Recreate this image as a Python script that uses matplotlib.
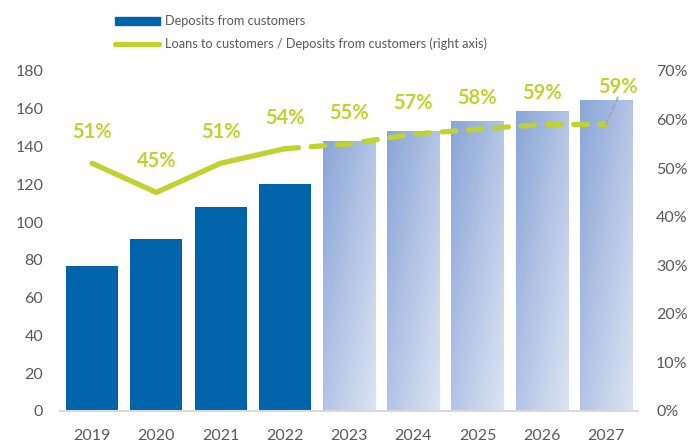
import numpy as np
import matplotlib.pyplot as plt
from matplotlib.patches import Rectangle
from matplotlib.lines import Line2D
from matplotlib.colors import LinearSegmentedColormap

plt.rcParams['font.family'] = ['Lato', 'DejaVu Sans']

years = ['2019', '2020', '2021', '2022', '2023', '2024', '2025', '2026', '2027']
deposits = [77, 91, 108, 120, 143, 148, 153.5, 159, 164.5]
ratio = [51, 45, 51, 54, 55, 57, 58, 59, 59]
n_actual = 4  # 2019-2022 are actuals, the rest is forecast

DARK_BLUE = '#0064AA'
GREEN = '#BFD22F'
GREY_TXT = '#595959'

fig = plt.figure(figsize=(6.89, 4.42), dpi=100)
ax = fig.add_axes([60 / 689, 1 - 411 / 442, 578 / 689, 340 / 442])
ax2 = ax.twinx()

x = np.arange(len(years))
bw = 0.81

bars = ax.bar(x, deposits, width=bw, color=DARK_BLUE, zorder=2)

# forecast bars get a diagonal light-blue gradient
grad_cmap = LinearSegmentedColormap.from_list('fc', ['#8AA5D7', '#DDE4F4'])
u, v = np.meshgrid(np.linspace(0, 1, 60), np.linspace(0, 1, 200))
grad = (u + v) / 2  # top-left dark -> bottom-right light
for i in range(n_actual, len(years)):
    b = bars[i]
    b.set_facecolor('none')
    x0 = b.get_x()
    h = b.get_height()
    im = ax.imshow(grad, cmap=grad_cmap, vmin=0, vmax=1, aspect='auto',
                   extent=[x0, x0 + bw, 0, h], origin='upper', zorder=2)
    im.set_clip_path(b)

ax.set_xlim(-0.5, len(years) - 0.5)
ax.set_ylim(0, 180)
ax.set_yticks(range(0, 181, 20))
ax2.set_ylim(0, 70)
ax2.set_yticks(range(0, 71, 10))
ax2.set_yticklabels([f'{t}%' for t in range(0, 71, 10)])
ax.set_xticks(x)
ax.set_xticklabels(years)

for a in (ax, ax2):
    for s in a.spines.values():
        s.set_visible(False)
    a.tick_params(length=0, labelsize=11.5, labelcolor=GREY_TXT)
ax.spines['bottom'].set_visible(True)
ax.spines['bottom'].set_color('#D9D9D9')
ax.spines['bottom'].set_linewidth(1.5)
ax.tick_params(axis='y', pad=12)
ax.tick_params(axis='x', pad=13)
ax2.tick_params(axis='y', pad=13)

# ratio line: solid for actuals, dashed for forecast
ax2.plot(x[:n_actual], ratio[:n_actual], color=GREEN, lw=3.8,
         solid_capstyle='round', solid_joinstyle='round', zorder=3)
ax2.plot(x[n_actual - 1:], ratio[n_actual - 1:], color=GREEN, lw=3.8,
         dashes=(2.6, 2.4), dash_capstyle='round', zorder=3)

for i, r in enumerate(ratio):
    if i == len(ratio) - 1:
        off = (12, 37)
        # small leader line to the last label
        ax2.annotate('', xy=(x[i], r), xytext=(12, 27), textcoords='offset pixels',
                     arrowprops=dict(arrowstyle='-', color='#A6A6A6', lw=1.2,
                                     linestyle=(0, (3, 2)), shrinkA=0, shrinkB=0))
    else:
        off = (0, 31)
    ax2.annotate(f'{r}%', (x[i], r), xytext=off, textcoords='offset pixels',
                 ha='center', va='center', color=GREEN, fontsize=14.5,
                 fontweight='bold', zorder=4)

# legend drawn at the top
fig.add_artist(Rectangle((115 / 689, 1 - 25 / 442), 45 / 689, 8 / 442,
                         transform=fig.transFigure, color=DARK_BLUE))
fig.text(165 / 689, 1 - 21 / 442, 'Deposits from customers', fontsize=9.2,
         color=GREY_TXT, va='center')
fig.add_artist(Line2D([115 / 689, 159 / 689], [1 - 44 / 442, 1 - 44 / 442],
                      transform=fig.transFigure, color=GREEN, lw=3.8,
                      solid_capstyle='round'))
fig.text(165 / 689, 1 - 44 / 442,
         'Loans to customers / Deposits from customers (right axis)',
         fontsize=9.2, color=GREY_TXT, va='center')

fig.savefig('out.png', dpi=100)
